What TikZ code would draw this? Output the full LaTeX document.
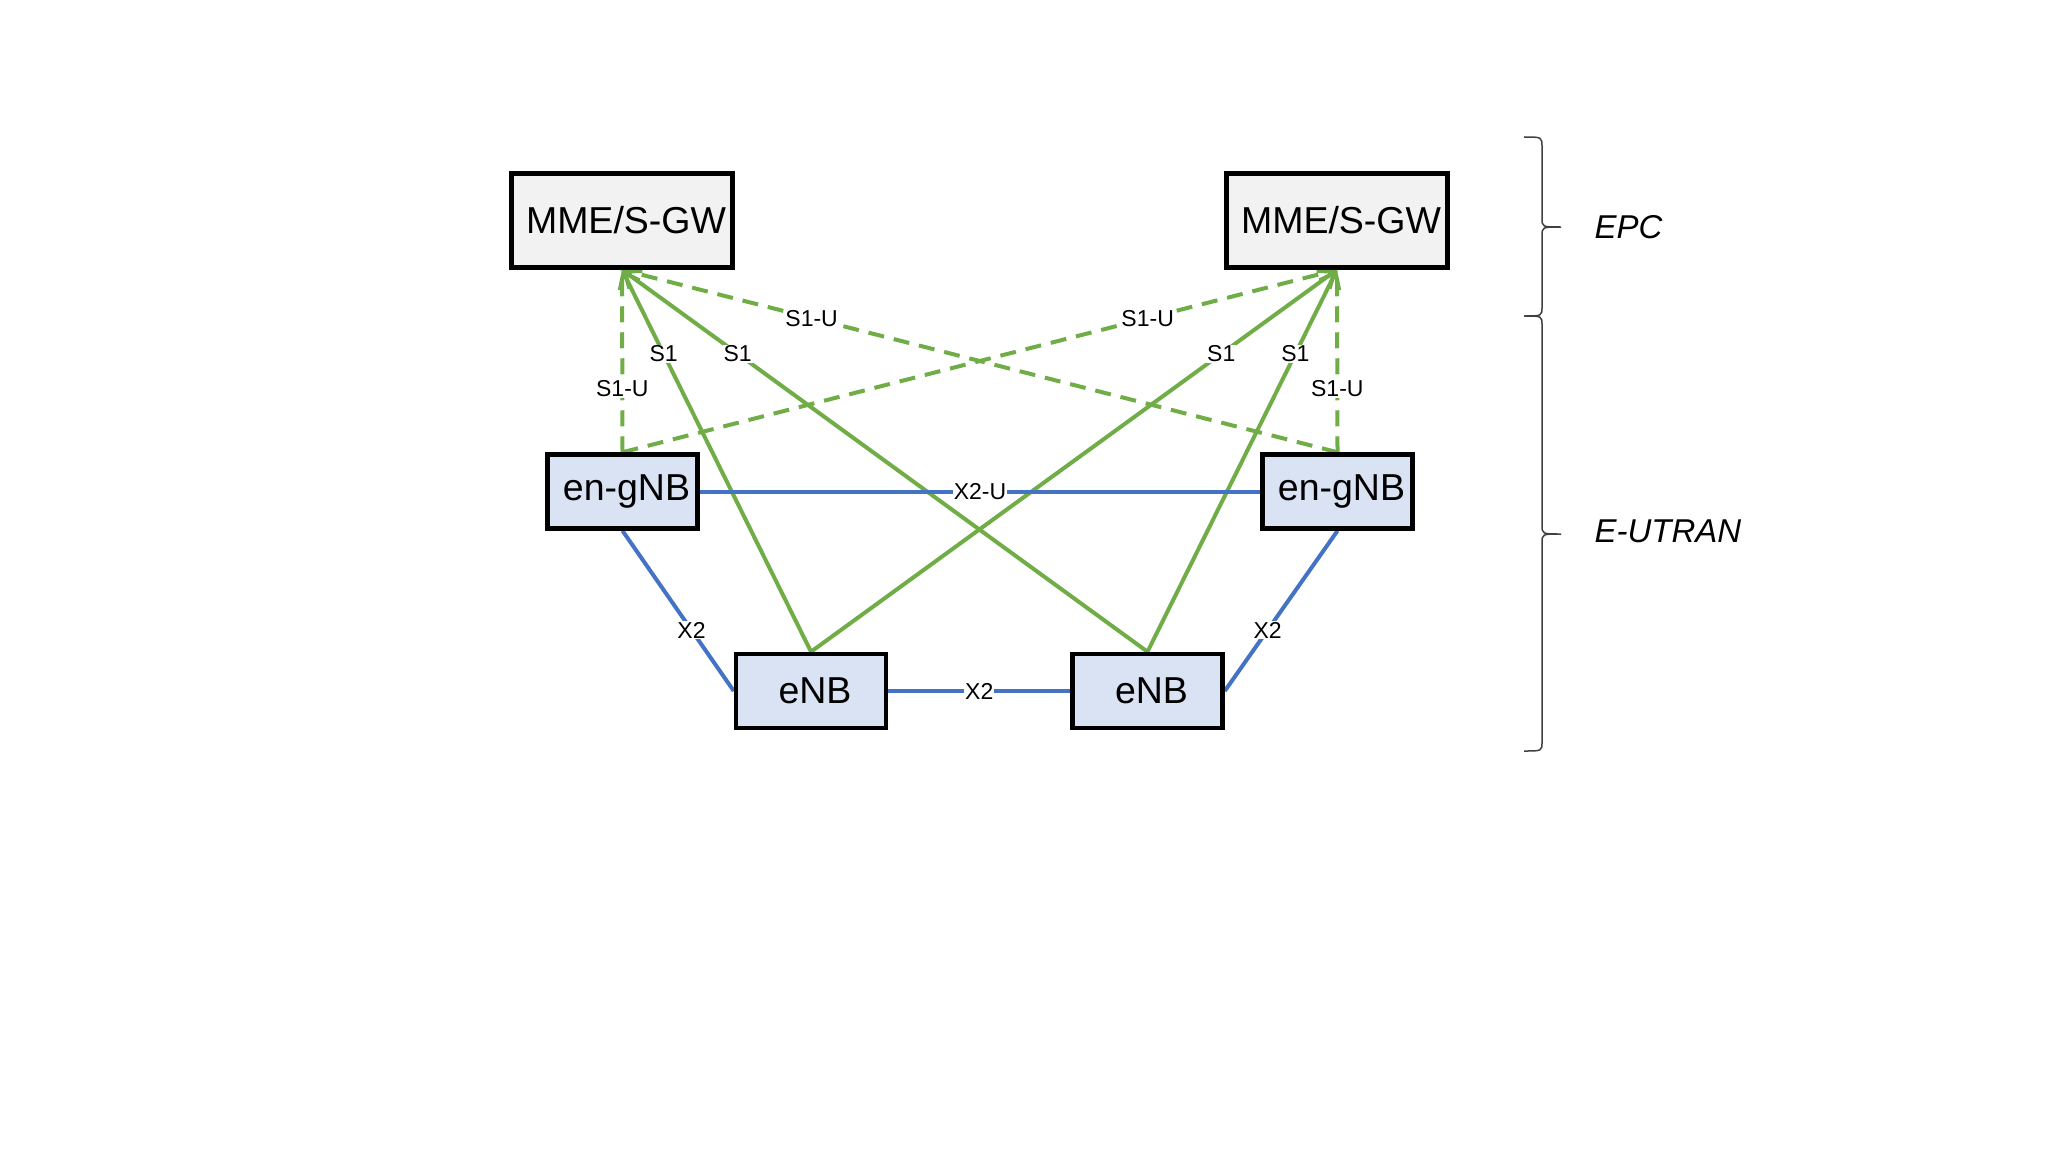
\documentclass[tikz,border=0pt]{standalone}
\usepackage{fontspec}
\setmainfont{Liberation Sans}
\usetikzlibrary{arrows.meta,backgrounds}
\definecolor{sgreen}{HTML}{70AD47}
\definecolor{xblue}{HTML}{4472C4}
\definecolor{corefill}{HTML}{F2F2F2}
\definecolor{ranfill}{HTML}{DAE3F3}
\tikzset{
  core/.style={draw, line width=4.5pt, fill=corefill, minimum width=221pt, minimum height=94pt, font=\fontsize{37.5}{40}\selectfont, execute at begin node=\hspace*{8pt}},
  ran/.style={draw, line width=4.5pt, fill=ranfill, minimum width=150pt, minimum height=74pt, font=\fontsize{37.5}{40}\selectfont, execute at begin node=\hspace*{8pt}},
  sone/.style={sgreen, line width=4pt, -{Straight Barb[length=14pt,width=22pt]}},
  soneu/.style={sgreen, line width=4pt, dash pattern=on 16pt off 10pt},
  xtwo/.style={xblue, line width=4pt},
  lbl/.style={fill=white, inner sep=1pt, font=\fontsize{23}{24}\selectfont, text=black},
  grp/.style={line width=1.5pt, draw=black!75},
  grplbl/.style={anchor=west, font=\fontsize{33}{36}\itshape},
}

\begin{document}
\begin{tikzpicture}[x=1pt,y=-1pt]
\useasboundingbox (0,0) rectangle (2048,1153);

% core and radio nodes
\node [core] (mmeL) at (622,220.5) {MME/S-GW};
\node [core] (mmeR) at (1337,220.5) {MME/S-GW};
\node [ran] (gnbL) at (622.5,491.5) {en-gNB};
\node [ran] (gnbR) at (1337.5,491.5) {en-gNB};
\node [ran] (enbL) at (811,691) {eNB};
\node [ran] (enbR) at (1147.5,691) {eNB};

\begin{scope}[on background layer]
% S1-U
\draw [soneu] (gnbL.north) -- (mmeL.south) node [lbl, pos=0.35] {S1-U};
\draw [soneu] (gnbR.north) -- (mmeL.south) node [lbl, pos=0.735] {S1-U};
\draw [soneu] (gnbL.north) -- (mmeR.south) node [lbl, pos=0.735] {S1-U};
\draw [soneu] (gnbR.north) -- (mmeR.south) node [lbl, pos=0.35] {S1-U};
% S1
\draw [sone] (enbL.north) -- (mmeL.south) node [lbl, pos=0.78] {S1};
\draw [sone] (enbR.north) -- (mmeL.south) node [lbl, pos=0.78] {S1};
\draw [sone] (enbL.north) -- (mmeR.south) node [lbl, pos=0.78] {S1};
\draw [sone] (enbR.north) -- (mmeR.south) node [lbl, pos=0.78] {S1};
% X2
\draw [xtwo] (gnbL.east) -- (gnbR.west) node [lbl, midway] {X2-U};
\draw [xtwo] (gnbL.south) -- (enbL.west) node [lbl, pos=0.62] {X2};
\draw [xtwo] (gnbR.south) -- (enbR.east) node [lbl, pos=0.62] {X2};
\draw [xtwo] (enbL.east) -- (enbR.west) node [lbl, midway] {X2};
\end{scope}

% groups
\draw [grp] (1524,137) .. controls (1542,137) .. (1542,147) -- (1542,218)
  .. controls (1542,227) .. (1561,227) .. controls (1542,227) .. (1542,236)
  -- (1542,307) .. controls (1542,316) .. (1524,316);
\draw [grp] (1524,316) .. controls (1542,316) .. (1542,325) -- (1542,525)
  .. controls (1542,534) .. (1561,534) .. controls (1542,534) .. (1542,543)
  -- (1542,742) .. controls (1542,751) .. (1524,751);
\node [grplbl] (epc) at (1591,227) {EPC};
\node [grplbl] (eutran) at (1591,531) {E-UTRAN};

\end{tikzpicture}
\end{document}
